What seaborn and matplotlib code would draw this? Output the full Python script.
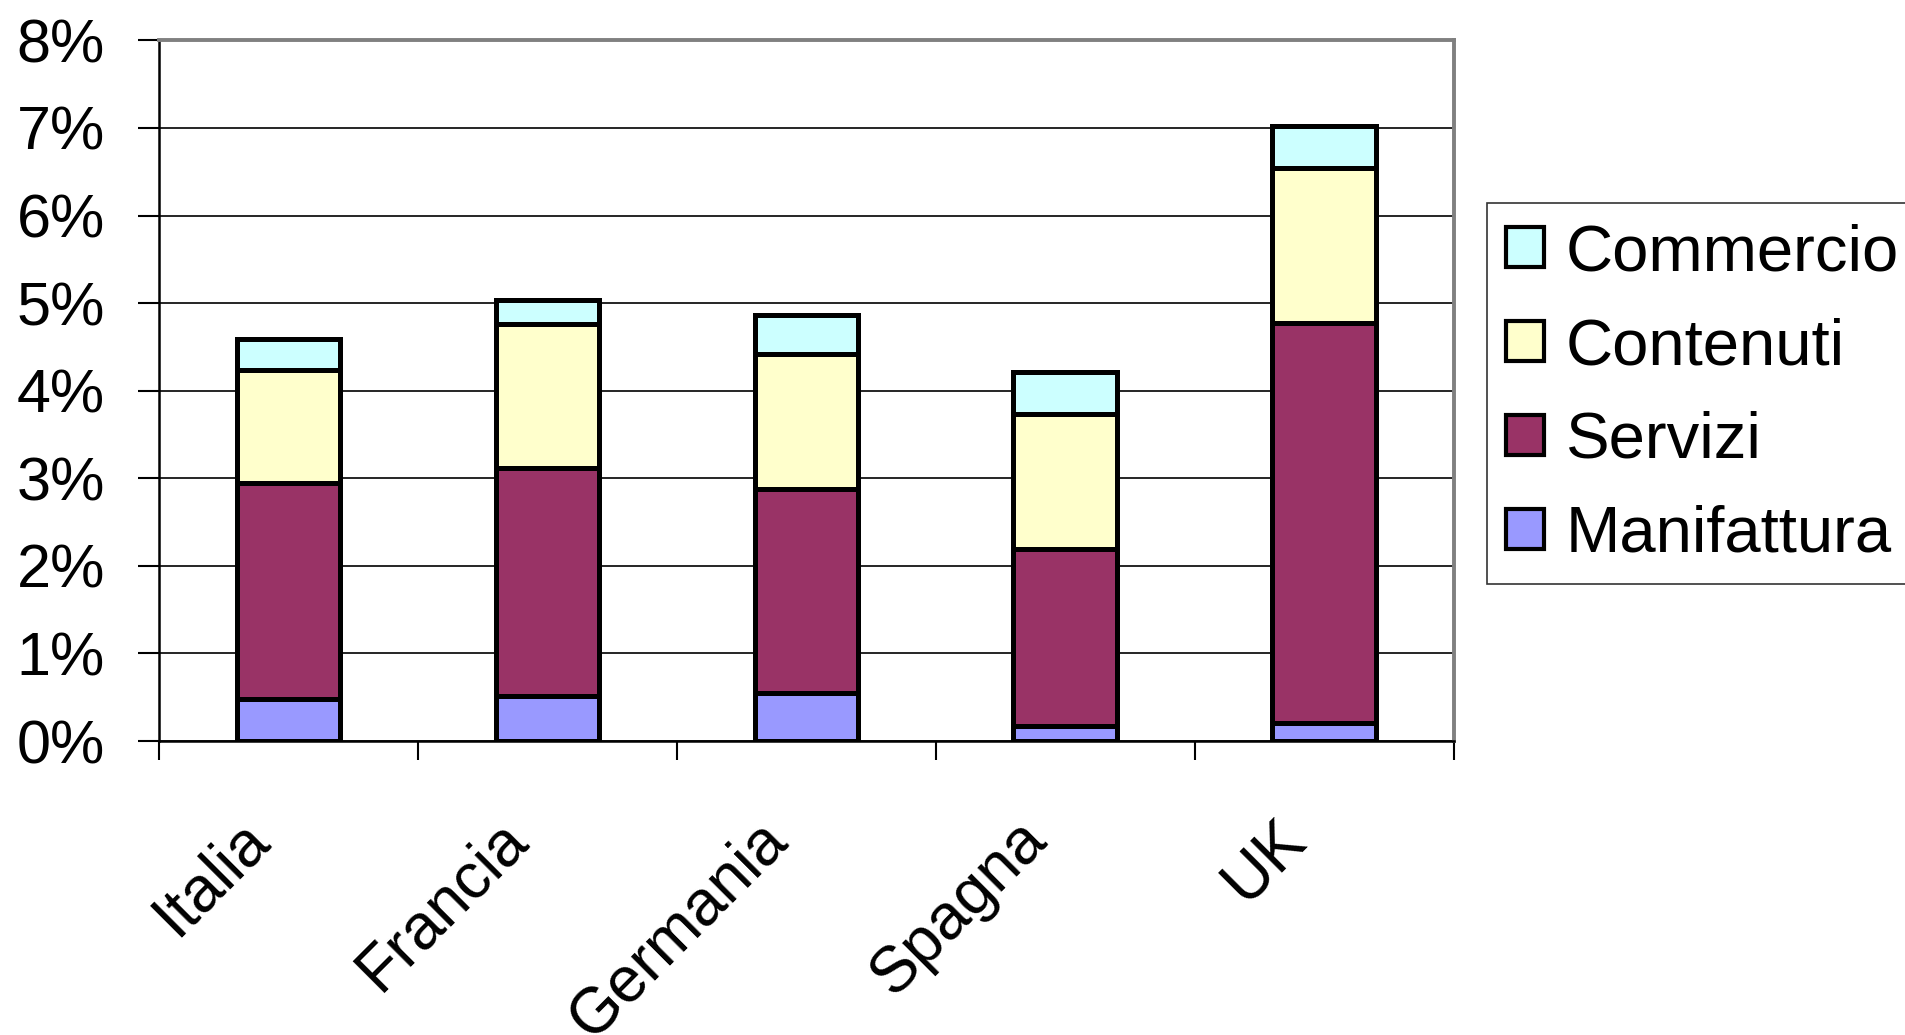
import numpy as np
import pandas as pd
import matplotlib
matplotlib.use("Agg")
import matplotlib.pyplot as plt
import matplotlib.transforms as mtransforms
from matplotlib.patches import Patch
from matplotlib.ticker import FuncFormatter, FixedLocator
import seaborn as sns

# Quota del valore aggiunto (%) per settore e paese
paesi = ["Italia", "Francia", "Germania", "Spagna", "UK"]
manifattura = [0.48, 0.52, 0.55, 0.17, 0.21]
servizi = [2.47, 2.60, 2.33, 2.02, 4.56]
contenuti = [1.29, 1.64, 1.54, 1.54, 1.77]
commercio = [0.35, 0.28, 0.44, 0.48, 0.48]

settori = ["Manifattura", "Servizi", "Contenuti", "Commercio"]
colori = {"Manifattura": "#9999FF", "Servizi": "#993366",
          "Contenuti": "#FFFFCC", "Commercio": "#CCFFFF"}
y_ticks = [0, 1, 2, 3, 4, 5, 6, 7, 8]

sns.set_theme(style="white")
plt.rcParams["font.family"] = ["Liberation Sans", "DejaVu Sans"]
plt.rcParams["text.color"] = "black"
plt.rcParams["xtick.color"] = "black"
plt.rcParams["ytick.color"] = "black"

valori = pd.DataFrame({"Manifattura": manifattura, "Servizi": servizi,
                       "Contenuti": contenuti, "Commercio": commercio},
                      index=paesi)
cumulato = valori.cumsum(axis=1)

fig = plt.figure(figsize=(19.05, 10.35), dpi=100)
ax = fig.add_axes([0.0835, 0.284, 0.6795, 0.677])

# Stacked bars: draw cumulative totals from the top layer down
for s in reversed(settori):
    df = pd.DataFrame({"paese": paesi, "valore": cumulato[s].values})
    sns.barplot(data=df, x="paese", y="valore", order=paesi, ax=ax,
                color=colori[s], saturation=1, width=0.4,
                edgecolor="black", linewidth=3.6, zorder=3)

ax.set_ylim(0, 8)
ax.set_xlim(-0.5, len(paesi) - 0.5)
ax.set_xlabel("")
ax.set_ylabel("")

ax.yaxis.set_major_locator(FixedLocator(y_ticks))
ax.yaxis.set_major_formatter(FuncFormatter(lambda v, p: f"{int(v)}%"))
ax.grid(axis="y", color="black", linewidth=1.2, zorder=0)
ax.set_axisbelow(True)

ax.tick_params(axis="y", which="major", left=True, direction="out",
               length=15, width=1.5, color="black", pad=24, labelsize=44,
               labelcolor="black")
# Category separators as minor ticks, labels on major ticks
ax.set_xticks(np.arange(-0.5, len(paesi), 1.0), minor=True)
ax.tick_params(axis="x", which="minor", bottom=True, direction="out",
               length=14, width=1.5, color="black")
ax.tick_params(axis="x", which="major", bottom=False, length=0, pad=64,
               labelsize=46, labelcolor="black")
for lab in ax.get_xticklabels():
    lab.set_rotation(45)
    lab.set_rotation_mode("anchor")
    lab.set_ha("right")
    lab.set_va("center")
    lab.set_transform(lab.get_transform() +
                      mtransforms.ScaledTranslation(-0.29, 0, fig.dpi_scale_trans))

for side in ["left", "bottom"]:
    ax.spines[side].set_color("black")
    ax.spines[side].set_linewidth(1.8)
for side in ["top", "right"]:
    ax.spines[side].set_color("#808080")
    ax.spines[side].set_linewidth(2.8)

handles = [Patch(facecolor=colori[s], edgecolor="black", linewidth=3.0, label=s)
           for s in reversed(settori)]
leg = fig.legend(handles=handles, loc="upper left",
                 bbox_to_anchor=(0.7805, 0.8034), fontsize=47,
                 frameon=True, fancybox=False, edgecolor="black",
                 handlelength=0.58, handleheight=0.58, handletextpad=0.33,
                 labelspacing=0.52, borderpad=0.3, borderaxespad=0)
leg.get_frame().set_linewidth(1.2)
for t in leg.get_texts():
    t.set_color("black")

fig.savefig("out.png", dpi=100, facecolor="white")
